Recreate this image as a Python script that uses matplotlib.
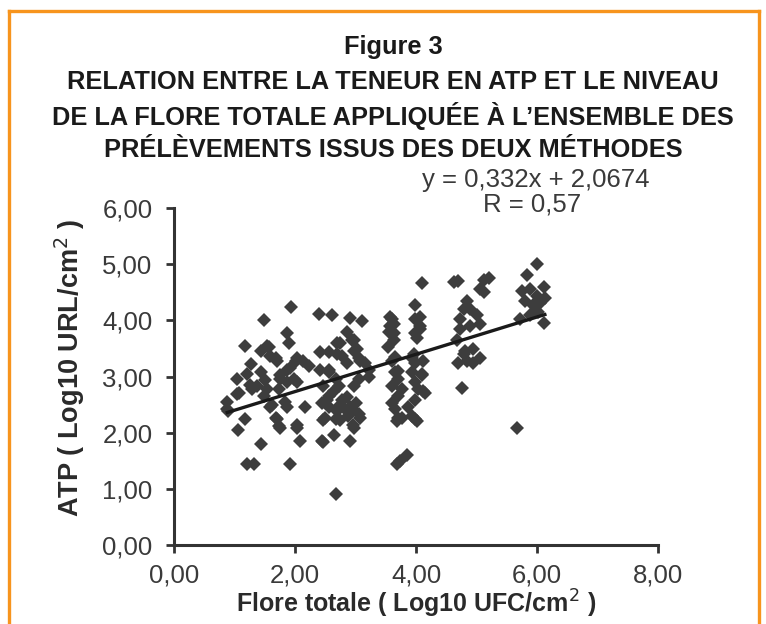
import matplotlib
matplotlib.use("Agg")
import numpy as np
import matplotlib.pyplot as plt
from matplotlib.lines import Line2D
from matplotlib.ticker import FuncFormatter

########## DATA ##########

# Flore totale (Log10 UFC/cm2) and ATP (Log10 URL/cm2)
flore = [
    # ~1
    0.88, 0.90, 0.88, 1.04, 1.04, 1.07, 1.05, 1.18, 1.18, 1.20, 1.33, 1.28,
    1.29, 1.37, 1.43, 1.43, 1.43, 1.48, 1.48, 1.51, 1.54, 1.57, 1.54, 1.20, 1.25,
    # ~2
    1.59, 1.62, 1.59, 1.68, 1.70, 1.68, 1.70, 1.73, 1.73, 1.76, 1.76, 1.76,
    1.84, 1.87, 1.87, 1.87, 1.87, 1.90, 1.92, 1.94, 1.92, 1.98, 2.01, 2.03,
    2.03, 2.03, 2.03, 2.09, 2.14, 2.17, 2.23, 2.39, 2.42, 2.42, 2.45, 2.45,
    # ~2.5-3
    2.47, 2.47, 2.47, 2.50, 2.53, 2.56, 2.56, 2.56, 2.56, 2.56, 2.61, 2.64,
    2.64, 2.67, 2.67, 2.67, 2.69, 2.69, 2.69, 2.72, 2.72, 2.75, 2.75, 2.78,
    2.78, 2.83, 2.86, 2.86, 2.86, 2.88, 2.91, 2.91, 2.91, 2.94, 2.94, 2.96,
    2.97, 2.97, 2.97, 2.97, 3.00, 3.02, 3.05, 3.05, 3.05, 3.08, 3.08, 3.11,
    3.16, 3.22, 3.22,
    # ~4
    3.54, 3.55, 3.57, 3.57, 3.60, 3.63, 3.63, 3.63, 3.60, 3.66, 3.71, 3.60,
    3.77, 3.71, 3.60, 3.66, 3.69, 3.71, 3.77, 3.87, 3.69, 3.74, 3.85, 3.93,
    3.99, 3.93, 4.10, 3.99, 4.04, 4.15, 3.99, 3.99, 4.02, 3.93, 4.10, 4.12,
    4.12, 3.96, 4.02, 4.07, 3.99, 4.07, 3.99, 3.99, 4.07, 4.10, 3.70, 3.65,
    # ~5
    4.62, 4.70, 5.12, 5.20, 5.06, 5.12, 4.84, 4.79, 4.90, 4.73, 5.01, 5.06,
    4.73, 4.90, 4.68, 4.95, 4.79, 5.06, 4.84, 4.95, 4.70, 4.81, 4.76,
    # ~6
    6.00, 5.83, 5.75, 5.89, 6.11, 6.00, 6.13, 5.94, 5.72, 5.89, 6.11, 6.02,
    5.80, 6.05, 5.67,
]
atp = [
    2.55, 2.39, 2.43, 2.68, 2.96, 2.71, 2.05, 2.24, 3.55, 1.45, 1.45, 3.22,
    2.77, 2.83, 3.08, 3.46, 1.80, 4.00, 2.65, 2.93, 3.55, 3.52, 2.77, 3.05, 2.85,
    3.37, 2.49, 2.46, 3.33, 3.27, 2.27, 2.24, 2.77, 2.11, 2.08, 2.96, 3.02,
    2.55, 3.77, 3.12, 2.46, 2.90, 3.59, 3.15, 4.24, 1.45, 2.96, 3.27, 2.90,
    2.14, 3.33, 2.08, 1.86, 3.27, 2.46, 3.18, 4.12, 3.43, 3.12, 2.52, 1.86,
    2.22, 1.83, 2.83, 2.27, 2.58, 3.08, 3.12, 2.65, 2.46, 3.43, 4.10, 2.74,
    1.96, 0.90, 2.96, 2.24, 3.40, 2.39, 3.59, 2.83, 2.48, 3.59, 2.22, 3.37,
    2.58, 2.43, 3.80, 2.64, 3.24, 2.29, 4.04, 2.46, 1.86, 3.65, 2.43, 2.14,
    3.65, 3.46, 2.83, 2.08, 2.52, 3.49, 3.33, 2.96, 2.33, 3.27, 2.27, 3.99,
    3.24, 3.12, 2.99,
    3.52, 3.80, 4.06, 3.90, 4.02, 3.93, 3.77, 3.65, 3.27, 3.08, 2.96, 2.83,
    2.77, 2.65, 2.52, 2.43, 2.21, 2.27, 2.27, 2.46, 1.45, 1.50, 1.61, 3.33,
    3.24, 3.08, 3.05, 2.90, 2.77, 2.71, 2.58, 2.24, 2.21, 2.30, 3.02, 2.74,
    3.27, 3.40, 3.68, 3.84, 4.02, 3.90, 3.77, 4.28, 4.06, 4.66, 3.10, 3.35,
    4.68, 4.70, 4.72, 4.75, 4.56, 4.50, 4.34, 4.21, 4.21, 4.02, 4.09, 3.93,
    3.84, 3.90, 3.65, 3.49, 3.40, 3.33, 3.27, 3.24, 3.24, 3.46, 2.80,
    5.00, 4.81, 4.53, 4.56, 4.59, 4.43, 4.40, 4.28, 4.02, 4.09, 3.96, 4.15,
    4.35, 4.30, 2.08,
]

slope = 0.332
intercept = 2.0674
r_value = "0,57"

title_lines = [
    "Figure 3",
    "RELATION ENTRE LA TENEUR EN ATP ET LE NIVEAU",
    "DE LA FLORE TOTALE APPLIQUÉE À L’ENSEMBLE DES",
    "PRÉLÈVEMENTS ISSUS DES DEUX MÉTHODES",
]
x_ticks = [0, 2, 4, 6, 8]
y_ticks = [0, 1, 2, 3, 4, 5, 6]

########## PLOTTING ##########

plt.rcParams['font.family'] = ['Liberation Sans', 'DejaVu Sans']
dark = '#333333'
orange = '#F7941D'
W, H = 766, 624

fig = plt.figure(figsize=(7.66, 6.24), dpi=100)
fig.patch.set_facecolor('white')

# orange frame (left, top, right)
fig.add_artist(Line2D([0.0115, 0.0115], [0.0, 0.982], transform=fig.transFigure,
                      color=orange, lw=2.4))
fig.add_artist(Line2D([0.0115, 0.991], [0.982, 0.982], transform=fig.transFigure,
                      color=orange, lw=2.4))
fig.add_artist(Line2D([0.991, 0.991], [0.0, 0.982], transform=fig.transFigure,
                      color=orange, lw=2.4))

# title block
title_y = [47, 82, 116, 150]
for line, ypx in zip(title_lines, title_y):
    fig.text(393 / W, 1 - ypx / H, line, ha='center', va='center',
             fontsize=18.3, fontweight='bold', color='#1a1a1a')

ax = fig.add_axes([174 / W, 1 - 545 / H, (658 - 174) / W, (545 - 208) / H])
ax.plot(flore, atp, linestyle='none', marker='D', markersize=7.3,
        color='#3d3d3d', markeredgewidth=0)

xs = np.array([min(flore), max(flore)])
ax.plot(xs, slope * xs + intercept, color='#1a1a1a', lw=2.4)

ax.set_xlim(0, 8)
ax.set_ylim(0, 6)
ax.set_xticks(x_ticks)
ax.set_yticks(y_ticks)
fmt = FuncFormatter(lambda v, p: ("%.2f" % v).replace('.', ','))
ax.xaxis.set_major_formatter(fmt)
ax.yaxis.set_major_formatter(fmt)
for s in ['top', 'right']:
    ax.spines[s].set_visible(False)
for s in ['left', 'bottom']:
    ax.spines[s].set_linewidth(2.2)
    ax.spines[s].set_color(dark)
ax.tick_params(direction='out', length=5.5, width=2.0, color=dark,
               labelsize=18.5, labelcolor='#3a3a3a')
ax.tick_params(axis='x', pad=8)
ax.tick_params(axis='y', pad=10)

fig.text(416 / W, 1 - 604 / H, "Flore totale ( Log10 UFC/cm$^2$ )",
         ha='center', va='center', fontsize=18, fontweight='bold', color='#2a2a2a')
fig.text(70 / W, 1 - 368 / H, "ATP ( Log10 URL/cm$^2$ )", rotation=90,
         ha='center', va='center', fontsize=19.5, fontweight='bold', color='#2a2a2a')

# trend line equation
fig.text(536 / W, 1 - 180 / H, "y = 0,332x + 2,0674", ha='center', va='center',
         fontsize=18.5, color='#3a3a3a')
fig.text(532 / W, 1 - 205 / H, "R = " + r_value, ha='center', va='center',
         fontsize=18.5, color='#3a3a3a')

fig.savefig("out.png", dpi=100)
